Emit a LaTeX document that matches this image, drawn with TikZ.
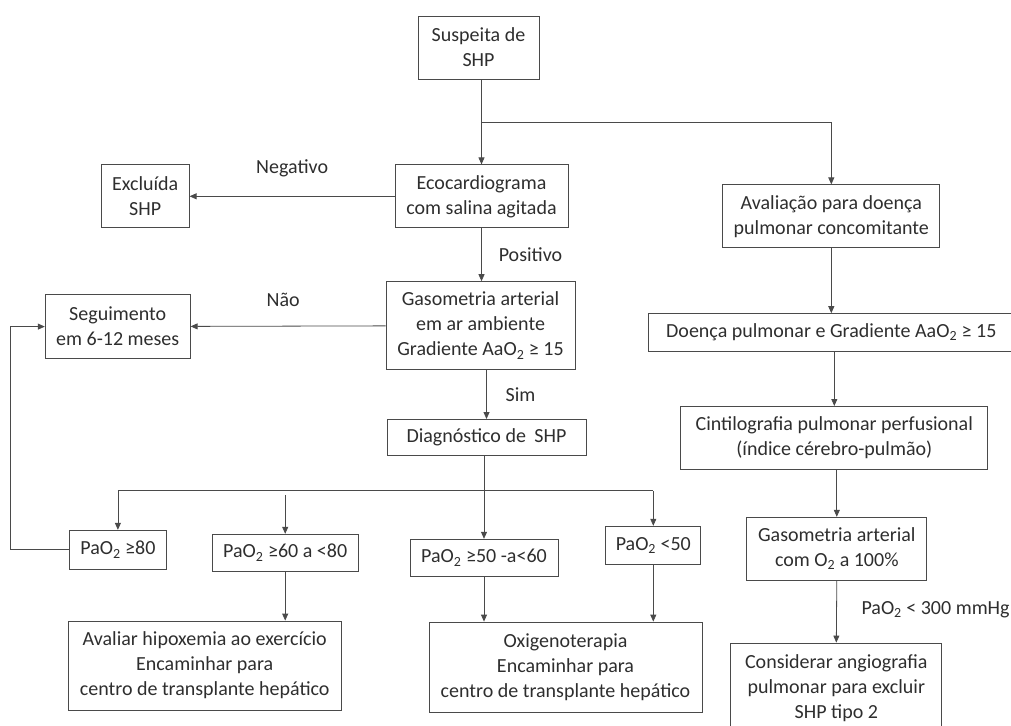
\documentclass[tikz,border=0pt]{standalone}
\usepackage{fontspec}
\setmainfont{Carlito}
\usetikzlibrary{arrows.meta, positioning, calc}
\definecolor{linegray}{HTML}{4A4A4A}
\definecolor{textgray}{HTML}{2E2E2E}

\begin{document}
\begin{tikzpicture}[
x=1pt, y=-1pt,
node distance=50pt and 50pt,
box/.style={rectangle, draw=linegray, line width=0.8pt, inner sep=2pt, align=center, text=textgray, font=\fontsize{20}{25}\selectfont},
lbl/.style={text=textgray, inner sep=0pt, font=\fontsize{20}{25}\selectfont},
conn/.style={draw=linegray, line width=0.8pt},
arrow/.style={conn, -{Triangle[length=7pt, width=6pt]}}
]
\useasboundingbox (0,0) rectangle (1011,725);
\clip (0,0) rectangle (1011,725);

% left column
\node[box, minimum width=121pt, minimum height=63pt] (susp) at (478.5,47.5) {Suspeita de\\SHP};
\node[box, minimum width=173pt, minimum height=63pt, below=85pt of susp, xshift=3pt] (eco) {Ecocardiograma\\com salina agitada};
\node[box, minimum width=88pt, minimum height=63pt, left=205pt of eco] (excl) {Excluída\\SHP};
\node[box, minimum width=189pt, minimum height=88pt, below=53pt of eco, xshift=-1pt] (gas) {Gasometria arterial\\em ar ambiente\\Gradiente AaO\textsubscript{2} ≥ 15};
\node[box, minimum width=145pt, minimum height=64pt, left=195pt of gas, yshift=-1pt] (seg) {Seguimento\\em 6-12 meses};
\node[box, minimum width=199pt, minimum height=36pt, below=49pt of gas, xshift=6pt] (diag) {Diagnóstico de\hspace{4pt} SHP};

% PaO2 classes
\node[box, minimum width=148pt, minimum height=37pt, below=83pt of diag, xshift=-2.5pt] (p50) {PaO\textsubscript{2} ≥50 -a<60};
\node[box, minimum width=95pt, minimum height=38pt, right=47pt of p50, yshift=12.5pt] (p49) {PaO\textsubscript{2} <50};
\node[box, minimum width=146pt, minimum height=37pt, left=51pt of p50, yshift=5pt] (p60) {PaO\textsubscript{2} ≥60 a <80};
\node[box, minimum width=97pt, minimum height=39pt, left=45pt of p60, yshift=3pt] (p80) {PaO\textsubscript{2} ≥80};
\node[box, minimum width=273pt, minimum height=89pt, below=49pt of p60, xshift=-80.5pt] (hipox) {Avaliar hipoxemia ao exercício\\Encaminhar para\\centro de transplante hepático};
\node[box, minimum width=273pt, minimum height=90pt, below=45pt of p50, xshift=81.5pt] (oxig) {Oxigenoterapia\\Encaminhar para\\centro de transplante hepático};

% right column
\node[box, minimum width=217pt, minimum height=63pt, right=154pt of eco, yshift=-20pt] (aval) {Avaliação para doença\\pulmonar concomitante};
\node[box, minimum width=365pt, minimum height=38pt, below=65pt of aval] (doenca) {Doença pulmonar e Gradiente AaO\textsubscript{2} ≥ 15};
\node[box, minimum width=307pt, minimum height=63pt, below=54pt of doenca, xshift=3pt] (cint) {Cintilografia pulmonar perfusional\\(índice cérebro-pulmão)};
\node[box, minimum width=180pt, minimum height=63pt, below=47pt of cint, xshift=2.5pt] (gaso2) {Gasometria arterial\\com O\textsubscript{2} a 100\%};
\node[box, minimum width=211pt, minimum height=90pt, below=62pt of gaso2, xshift=-0.5pt] (cons) {Considerar angiografia\\pulmonar para excluir\\SHP tipo 2};

\coordinate (split) at ($(susp.south -| eco.north)!0.5!(eco.north)$);
\coordinate (fork) at ($(diag.south)+(0,35)$);

\draw[arrow] (susp.south -| eco.north) -- (eco.north);
\draw[arrow] (split) -| (aval.north);
\draw[arrow] (eco) -- node[lbl, yshift=28pt] {Negativo} (excl);
\draw[arrow] (eco.south) -- node[lbl, xshift=49pt] {Positivo} (eco.south |- gas.north);
\draw[arrow] (gas) -- node[lbl, xshift=-5pt, yshift=26pt] {Não} (seg);
\draw[arrow] (gas.south -| diag.north) -- node[lbl, xshift=34pt] {Sim} (diag.north);
\draw[arrow] (p50.north |- diag.south) -- (p50.north);
\draw[conn] (fork -| p80.north) -- (fork -| p49.north);
\draw[arrow] (fork -| p80.north) -- (p80.north);
\draw[arrow] ($(fork -| p60.north)+(0,4)$) -- (p60.north);
\draw[arrow] (fork -| p49.north) -- (p49.north);
\draw[arrow] (p80.west) -- ++(-59,0) |- (seg.west);
\draw[arrow] (p60.south) -- (p60.south |- hipox.north);
\draw[arrow] (p50.south) -- (p50.south |- oxig.north);
\draw[arrow] (p49.south) -- (p49.south |- oxig.north);

\draw[arrow] (aval.south) -- (doenca.north);
\draw[arrow] (cint.north |- doenca.south) -- (cint.north);
\draw[arrow] (gaso2.north |- cint.south) -- (gaso2.north);
\draw[arrow] (gaso2.south) -- node[lbl, xshift=99pt, yshift=2pt] {PaO\textsubscript{2} < 300 mmHg} (cons.north);
\end{tikzpicture}
\end{document}
